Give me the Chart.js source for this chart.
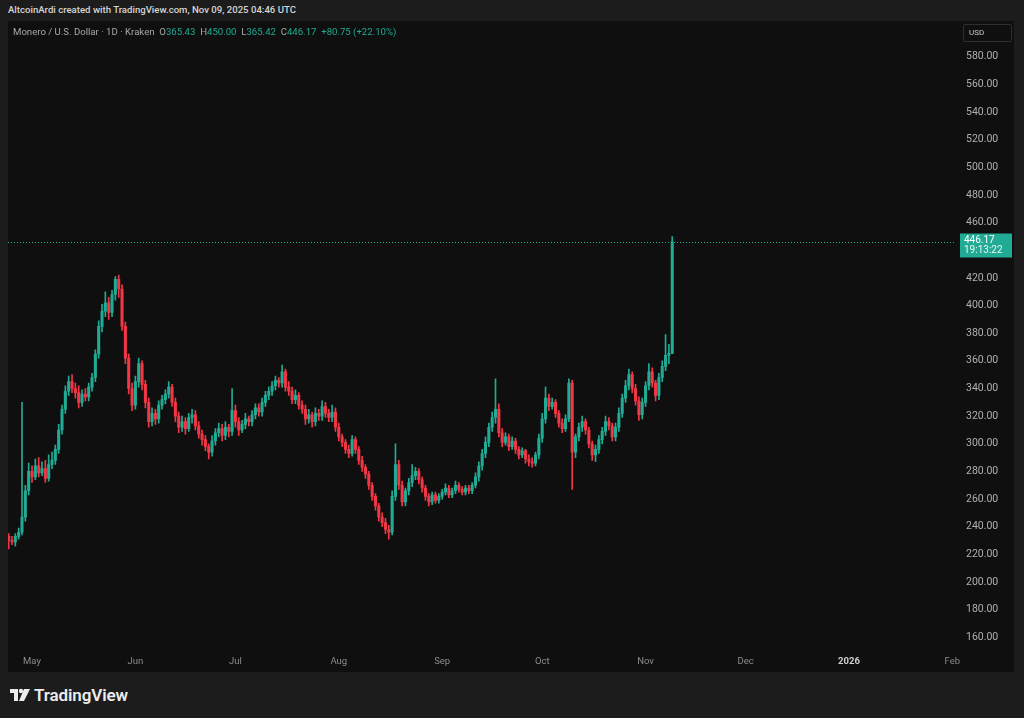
<!DOCTYPE html>
<html>
<head>
<meta charset="utf-8">
<script src="https://cdn.jsdelivr.net/npm/chart.js@4.4.1/dist/chart.umd.min.js"></script>
<style>
  html, body { margin: 0; padding: 0; }
  body { width: 1024px; height: 718px; background: #1c1c1c; position: relative; overflow: hidden; font-family: Roboto, "Noto Sans", sans-serif; }
  #top { position: absolute; left: 8px; top: 4px; font-size: 9.6px; color: #d6d6d6; font-weight: 500; }
  #pane { position: absolute; left: 8px; top: 21px; width: 1006px; height: 651px; background: #0f0f0f; }
  #legend { position: absolute; left: 5px; top: 5px; font-size: 9.6px; color: #a8a8a8; white-space: pre; }
  #legend .v { color: #22ab94; }
  #usd { position: absolute; left: 955px; top: 3px; width: 47px; height: 16px; border: 1px solid #2e2e2e; border-radius: 2px; color: #c8c8c8; font-size: 8px; line-height: 16px; text-indent: 5px; }
  #foot { position: absolute; left: 10px; top: 686px; height: 18px; display: flex; align-items: center; }
  #foot span { color: #ececec; font-size: 17px; font-weight: 600; margin-left: 4px; letter-spacing: -0.1px; }
</style>
</head>
<body>
<div id="top">AltcoinArdi created with TradingView.com, Nov 09, 2025 04:46 UTC</div>
<div id="pane">
  <canvas id="grafico" width="1006" height="651"></canvas>
  <div id="legend">Monero / U.S. Dollar · 1D · Kraken  O<span class="v">365.43</span>  H<span class="v">450.00</span>  L<span class="v">365.42</span>  C<span class="v">446.17</span>  <span class="v">+80.75 (+22.10%)</span></div>
  <div id="usd">USD</div>
</div>
<div id="foot">
  <svg width="20" height="14" viewBox="0 0 20 14"><rect x="0" y="1" width="8" height="4" fill="#ececec"/><rect x="4" y="1" width="4" height="12" fill="#ececec"/><circle cx="11" cy="3" r="2.2" fill="#ececec"/><polygon points="14,1 20,1 14,13 9,13" fill="#ececec"/></svg>
  <span>TradingView</span>
</div>
<script>
// XMR/USD diario, Kraken - primeiro candle 24/04/2025, ultimo 09/11/2025
const primeiroDia = "2025-04-24";

const opens = [233,230,229,233,236,247,266,280,276,284,279,282,275,285,288,296,310,325,338,345,
  340,337,330,336,334,341,348,365,385,396,402,395,408,419,412,385,362,340,328,345,
  358,343,330,316,322,318,328,332,336,341,330,320,312,316,311,319,321,313,307,303,
  298,294,302,308,311,306,312,309,324,316,310,314,318,316,321,326,323,330,335,338,
  342,346,344,352,341,338,332,335,328,325,318,321,316,322,320,327,322,319,323,312,
  305,301,296,293,303,296,288,283,278,270,262,255,247,243,238,236,262,285,270,258,
  266,272,277,280,274,268,262,258,263,259,262,265,268,263,266,270,267,265,268,266,
  270,276,284,293,301,312,319,325,308,301,305,298,302,296,292,295,289,287,286,292,
  304,318,333,327,330,322,315,311,318,344,294,305,312,316,310,300,292,296,303,309,
  316,313,305,312,322,333,342,350,340,331,321,330,342,352,344,335,348,356,364,365.43];

const highs = [235,233,235,239,330,270,286,284,289,290,287,288,292,294,299,314,328,342,349,350,
  344,342,339,340,344,351,368,389,401,410,406,411,421,422,415,388,365,344,349,362,
  360,346,333,326,325,331,335,339,345,343,333,323,320,319,322,325,324,316,310,306,
  300,306,311,315,314,316,314,340,328,319,317,322,320,324,329,329,333,338,341,345,
  349,348,357,354,345,341,339,337,331,328,325,323,326,325,331,330,325,328,326,315,
  307,303,299,306,305,298,291,285,280,272,264,257,250,246,241,266,300,288,273,268,
  275,285,283,282,276,270,264,265,265,264,267,271,270,268,273,272,269,270,270,272,
  279,287,296,305,315,323,347,329,311,308,307,305,304,298,297,296,292,290,294,307,
  322,341,336,333,332,324,318,321,347,346,307,315,320,318,312,302,299,306,312,320,
  319,315,315,326,336,346,354,352,343,334,333,345,358,355,346,351,360,379,372,450];

const lows = [224,227,226,231,234,244,263,272,274,276,277,272,273,282,285,293,307,322,335,337,
  333,326,327,331,331,338,345,362,381,392,390,392,404,406,382,358,336,324,325,341,
  339,326,312,313,314,315,325,329,333,327,316,308,309,307,309,315,310,304,299,295,
  289,291,299,305,302,303,305,306,312,306,308,311,313,313,318,320,320,327,332,335,
  339,341,341,338,335,329,329,325,322,314,315,312,313,317,317,319,316,316,309,302,
  298,293,290,291,293,285,280,275,267,259,252,244,240,235,231,234,259,267,255,255,
  263,269,274,271,265,259,255,256,257,257,260,263,261,261,264,265,263,263,264,264,
  268,273,281,290,298,309,315,305,298,299,295,296,293,289,290,286,284,283,284,289,
  301,315,324,325,319,312,308,309,316,267,290,302,309,307,297,288,287,293,300,306,
  310,302,302,309,319,330,339,337,328,317,318,327,339,341,331,332,345,353,358,365.42];

const closes = [230,229,233,236,247,266,280,276,284,279,282,275,285,288,296,310,325,338,345,340,
  337,330,336,334,341,348,365,385,396,402,395,408,419,412,385,362,340,328,345,358,
  343,330,316,322,318,328,332,336,341,330,320,312,316,311,319,321,313,307,303,298,
  294,302,308,311,306,312,309,324,316,310,314,318,316,321,326,323,330,335,338,342,
  346,344,352,341,338,332,335,328,325,318,321,316,322,320,327,322,319,323,312,305,
  301,296,293,303,296,288,283,278,270,262,255,247,243,238,236,262,285,270,258,266,
  272,277,280,274,268,262,258,263,259,262,265,268,263,266,270,267,265,268,266,270,
  276,284,293,301,312,319,325,308,301,305,298,302,296,292,295,289,287,286,292,304,
  318,333,327,330,322,315,311,318,344,294,305,312,316,310,300,292,296,303,309,316,
  313,305,312,322,333,342,350,340,331,321,330,342,352,344,335,348,356,364,365.43,446.17];

// eixo do tempo (dias desde o primeiro candle)
const diasTicks = [7, 38, 68, 99, 130, 160, 191, 221, 252, 283];
const nomesTicks = ["May", "Jun", "Jul", "Aug", "Sep", "Oct", "Nov", "Dec", "2026", "Feb"];
const precosTicks = [160,180,200,220,240,260,280,300,320,340,360,380,400,420,440,460,480,500,520,540,560,580];

const ultimoPreco = 446.17;
const contagem = "19:13:22";

const VERDE = "#22ab94";
const VERMELHO = "#f23645";

const cor = (i) => (closes[i] >= opens[i] ? VERDE : VERMELHO);

const pavios = lows.map((l, i) => ({ x: i, y: [l, highs[i]] }));
const corpos = opens.map((o, i) => ({ x: i, y: [o, closes[i]] }));

// linha pontilhada e etiqueta do preco atual
const linhaPreco = {
  id: "linhaPreco",
  afterDatasetsDraw(chart) {
    const { ctx, chartArea } = chart;
    const y = Math.round(chart.scales.y.getPixelForValue(ultimoPreco)) + 0.5;
    ctx.save();
    ctx.strokeStyle = VERDE;
    ctx.lineWidth = 1;
    ctx.setLineDash([1, 2]);
    ctx.beginPath();
    ctx.moveTo(chartArea.left, y);
    ctx.lineTo(chartArea.right, y);
    ctx.stroke();
    ctx.setLineDash([]);
    // caixa
    const bx = chartArea.right + 5, bw = 52, bh = 24;
    ctx.fillStyle = VERDE;
    ctx.fillRect(bx, y - 9, bw, bh);
    ctx.fillStyle = "#ffffff";
    ctx.font = "10px Roboto";
    ctx.textBaseline = "middle";
    ctx.fillText(ultimoPreco.toFixed(2), bx + 4, y - 2);
    ctx.fillStyle = "#e8f6f3";
    ctx.fillText(contagem, bx + 4, y + 8);
    ctx.restore();
  },
};

new Chart(document.getElementById("grafico"), {
  type: "bar",
  data: {
    datasets: [
      {
        label: "corpos",
        data: corpos,
        backgroundColor: (c) => cor(c.dataIndex),
        barThickness: 2.4,
        minBarLength: 1,
        grouped: false,
        order: 0,
      },
      {
        label: "pavios",
        data: pavios,
        backgroundColor: (c) => cor(c.dataIndex),
        barThickness: 1,
        grouped: false,
        order: 1,
      },
    ],
  },
  options: {
    responsive: false,
    animation: false,
    layout: { padding: 0, autoPadding: false },
    plugins: {
      legend: { display: false },
      tooltip: { enabled: false },
    },
    scales: {
      x: {
        type: "linear",
        offset: false,
        min: -0.2,
        max: 283.8,
        grid: { display: false, drawTicks: false },
        border: { display: false },
        afterBuildTicks: (s) => {
          s.ticks = diasTicks.map((d) => ({ value: d }));
        },
        afterFit: (s) => {
          s.height = 22;
        },
        ticks: {
          autoSkip: false,
          maxRotation: 0,
          padding: 6,
          color: (c) => (nomesTicks[c.index] === "2026" ? "#d0d0d0" : "#8c8c8c"),
          font: (c) => ({ family: "Roboto", size: 9.5, weight: nomesTicks[c.index] === "2026" ? "bold" : "normal" }),
          callback: (v, i) => nomesTicks[i],
        },
      },
      y: {
        position: "right",
        min: 150.8,
        max: 593.4,
        grid: { display: false, drawTicks: false },
        border: { display: false },
        afterBuildTicks: (s) => {
          s.ticks = precosTicks.map((p) => ({ value: p }));
        },
        afterFit: (s) => {
          s.width = 59;
        },
        ticks: {
          padding: 11,
          color: "#b0b0b0",
          font: { family: "Roboto", size: 10.5 },
          callback: (v) => Number(v).toFixed(2),
        },
      },
    },
  },
  plugins: [linhaPreco],
});
</script>
</body>
</html>
